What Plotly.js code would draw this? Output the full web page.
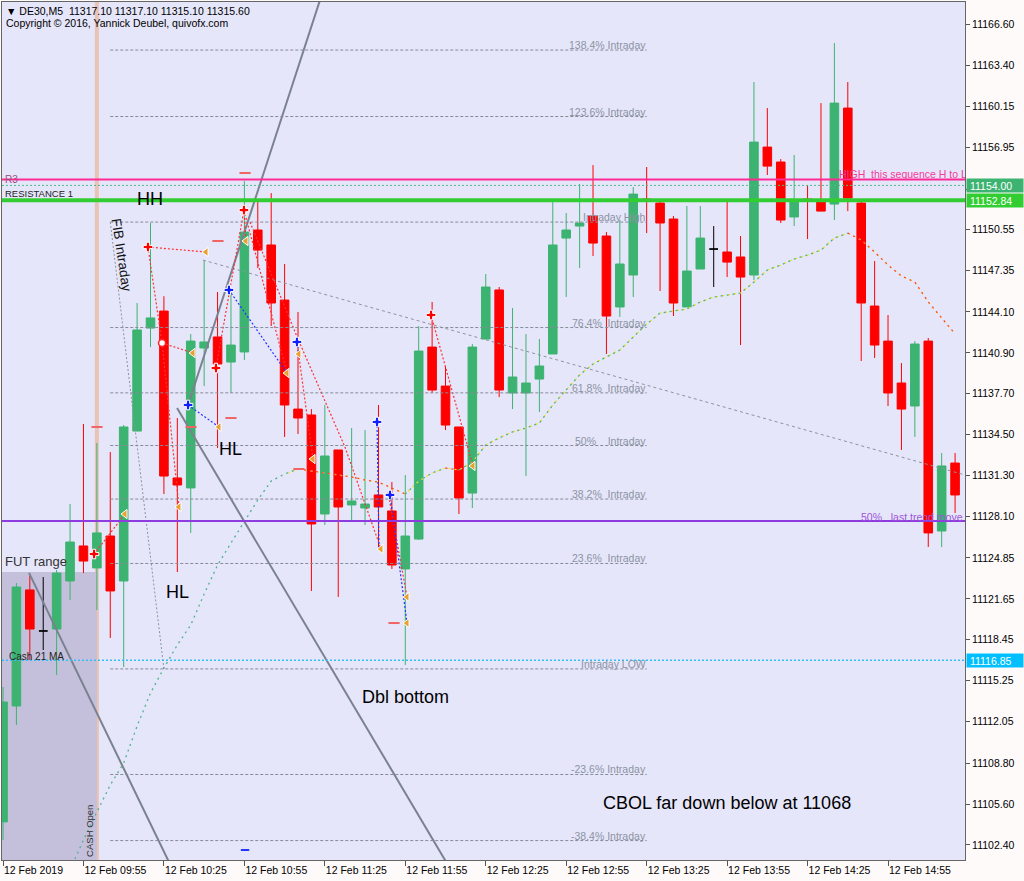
<!DOCTYPE html>
<html>
<head>
<meta charset="utf-8">
<script src="https://cdn.plot.ly/plotly-3.0.1.min.js"></script>
<style>
html,body{margin:0;padding:0;background:#FFFAFA;}
#chart{width:1024px;height:881px;}
</style>
</head>
<body>
<div id="chart"></div>
<script>
// DE30 M5 bars, 12 Feb 2019
const times = ['09:25','09:30','09:35','09:40','09:45','09:50','09:55','10:00','10:05','10:10',
  '10:15','10:20','10:25','10:30','10:35','10:40','10:45','10:50','10:55','11:00',
  '11:05','11:10','11:15','11:20','11:25','11:30','11:35','11:40','11:45','11:50',
  '11:55','12:00','12:05','12:10','12:15','12:20','12:25','12:30','12:35','12:40',
  '12:45','12:50','12:55','13:00','13:05','13:10','13:15','13:20','13:25','13:30',
  '13:35','13:40','13:45','13:50','13:55','14:00','14:05','14:10','14:15','14:20',
  '14:25','14:30','14:35','14:40','14:45','14:50','14:55','15:00','15:05','15:10',
  '15:15','15:20'];

const openP = [11104.20,11113.27,11122.35,11119.14,11119.29,11123.05,11125.79,11124.07,11126.57,11123.05,
  11134.78,11142.84,11144.17,11131.11,11130.33,11141.28,11142.14,11140.18,11140.97,11150.51,
  11149.34,11145.03,11136.50,11136.04,11128.29,11133.30,11129.00,11128.76,11129.78,11128.53,
  11123.99,11126.33,11141.35,11138.30,11135.10,11129.93,11141.98,11145.82,11137.76,11137.76,
  11138.85,11140.81,11149.88,11150.82,11151.60,11150.04,11144.49,11146.99,11152.93,11152.62,
  11151.37,11144.49,11147.46,11149.02,11148.79,11148.40,11146.99,11157.00,11155.83,11151.53,
  11152.93,11152.78,11152.54,11160.05,11152.62,11144.56,11141.82,11138.54,11136.74,11141.82,
  11126.96,11132.28];
const highP = [11114.76,11122.89,11123.44,11123.36,11123.91,11129.07,11135.33,11133.85,11133.14,11135.25,
  11144.80,11151.06,11145.33,11135.80,11142.37,11148.16,11145.66,11145.82,11154.34,11152.78,
  11153.40,11147.85,11144.09,11136.50,11136.82,11133.30,11135.02,11134.86,11136.82,11130.79,
  11131.34,11143.00,11144.88,11139.87,11135.10,11141.59,11147.07,11146.05,11144.41,11142.37,
  11141.98,11152.86,11151.84,11154.11,11155.59,11150.35,11151.29,11153.87,11155.44,11152.70,
  11151.60,11152.39,11152.39,11150.82,11152.78,11150.04,11162.09,11160.05,11156.06,11156.38,
  11154.03,11160.44,11165.14,11162.09,11152.78,11148.08,11143.86,11140.10,11141.82,11142.06,
  11133.06,11133.06];
const lowP = [11102.79,11111.79,11116.87,11117.65,11115.70,11121.56,11123.67,11120.78,11118.59,11116.32,
  11134.78,11141.35,11129.85,11123.75,11126.81,11138.30,11133.46,11137.76,11140.34,11147.54,
  11143.00,11134.32,11134.55,11122.27,11127.43,11121.80,11127.74,11127.43,11125.71,11123.99,
  11116.48,11126.26,11137.76,11134.86,11128.29,11128.76,11141.98,11137.44,11136.50,11131.26,
  11136.27,11140.81,11145.27,11147.54,11148.48,11140.81,11143.70,11145.27,11150.27,11145.74,
  11143.78,11144.49,11147.46,11146.05,11146.83,11141.51,11146.60,11154.81,11151.06,11150.82,
  11149.80,11151.99,11151.29,11151.99,11140.26,11140.50,11136.74,11133.30,11134.32,11125.71,
  11125.71,11128.37];
const closeP = [11113.58,11122.58,11119.29,11119.14,11123.67,11126.10,11124.61,11126.81,11122.27,11135.10,
  11142.69,11143.63,11131.26,11130.56,11141.82,11141.75,11140.03,11141.51,11150.35,11148.94,
  11144.80,11136.82,11135.80,11127.51,11132.83,11128.84,11129.31,11129.07,11128.84,11124.30,
  11126.57,11141.04,11137.99,11135.25,11129.54,11141.35,11146.05,11137.99,11139.01,11138.54,
  11139.87,11149.34,11150.51,11151.05,11149.49,11143.78,11147.85,11153.32,11152.78,11151.06,
  11144.80,11147.30,11149.88,11149.02,11148.00,11146.83,11157.39,11155.51,11151.29,11152.70,
  11152.78,11151.99,11160.44,11153.01,11144.80,11141.51,11137.76,11136.50,11141.59,11126.81,
  11132.05,11129.78];

// Cash session 21 MA
const maCash = [null,null,null,null,null,11100.44,11102.79,11104.98,11107.09,11108.81,
  11111.70,11114.29,11116.24,11118.04,11119.61,11122.03,11124.30,11126.02,11127.66,11129.39,
  11130.87,11131.42,11131.81,11131.65,11131.50,11131.34,11131.19,11130.95,11130.79,11130.32,
  11129.85,11130.87,11131.50,11131.89,11131.73,11132.36,11133.69,11134.24,11134.71,11135.02,
  11135.41,11136.82,11138.00,11139.17,11140.03,11140.58,11141.12,11142.14,11143.15,11144.01,
  11144.17,11144.33,11144.88,11145.27,11145.42,11145.58,11146.44,11147.38,11147.77,11148.24,
  11148.55,11148.94,11149.88,11150.27,11149.73,11148.79,11147.77,11146.91,11146.44,11144.88,
  11143.63,11142.38];
const maOverlayFrom = '11:10';

// axis ticks
const tickTimes = ['09:25','09:55','10:25','10:55','11:25','11:55','12:25','12:55','13:25','13:55','14:25','14:55'];
const tickLabels = ['12 Feb 2019','12 Feb 09:55','12 Feb 10:25','12 Feb 10:55','12 Feb 11:25','12 Feb 11:55',
  '12 Feb 12:25','12 Feb 12:55','12 Feb 13:25','12 Feb 13:55','12 Feb 14:25','12 Feb 14:55'];
const priceTicks = [11166.60,11163.40,11160.15,11156.95,11153.70,11150.55,11147.35,11144.10,11140.90,11137.70,
  11134.50,11131.30,11128.10,11124.85,11121.65,11118.45,11115.25,11112.05,11108.80,11105.60,11102.40];
// tick whose label sits under the price tags
const coveredTick = 11153.70;

// horizontal levels
const r3High = 11154.47;
const bidLevel = 11154.00;
const resistance1 = 11152.84;
const intradayLow = 11116.85;
const lastTrendHalf = 11127.74;

// futures range box and cash open
const futRangeTop = 11123.75;
const cashOpen = '10:00';

// Fibonacci intraday levels
const fibPrices = [11164.59,11159.39,11151.13,11142.88,11137.77,11133.65,11129.46,11124.42,11116.17,11107.91,11102.74];
const fibLabels = ['138.4% Intraday','123.6% Intraday','Intraday High','76.4%\u00a0\u00a0Intraday','61.8%\u00a0\u00a0Intraday',
  '50%\u00a0\u00a0\u00a0\u00a0Intraday','38.2%\u00a0\u00a0Intraday','23.6%\u00a0\u00a0Intraday','Intraday LOW','-23.6% Intraday','-38.4% Intraday'];
const fibFrom = '10:05', fibTo = '13:25';
const fibAnchorHigh = ['10:05', 11151.13];
const fibAnchorLow = ['10:25', 11116.17];

// drawn trend lines: [bar number, price]
const trendLines = [
  [[13.80, 11136.82], [25.00, 11172.88]],
  [[12.98, 11136.58], [34.00, 11099.38]],
  [[1.94, 11123.68], [13.00, 11099.71]]
];
const slopeLine = [[14.91, 11148.16], [72.50, 11131.12]];

// swing markers and links: [bar number, price]
const zigRedPaths = [
  [[10.81,11149.18],[15.14,11148.79]],
  [[10.81,11149.18],[11.86,11141.67],[13.12,11128.84]],
  [[11.86,11141.67],[14.17,11140.89]],
  [[15.88,11139.71],[17.97,11152.07]],
  [[17.97,11152.07],[18.12,11149.65]],
  [[17.97,11152.07],[21.18,11139.32]],
  [[18.42,11151.13],[22.00,11141.98],[25.50,11133.53],[28.19,11125.55]],
  [[21.92,11141.75],[23.12,11132.59]],
  [[28.71,11130.01],[30.13,11121.80]],
  [[31.92,11143.86],[35.05,11132.05]],
  [[6.79,11125.16],[9.10,11128.29]]
];
const zigBluePaths = [
  [[13.80,11136.82],[16.11,11135.10]],
  [[16.85,11145.82],[21.18,11139.32]],
  [[21.92,11141.75],[22.07,11140.81]],
  [[27.89,11135.49],[28.04,11125.55]],
  [[28.86,11129.78],[30.13,11119.76]]
];
const redCrosses = [[10.81,11149.18],[17.97,11152.07],[15.88,11139.71],[31.92,11143.86],[6.79,11125.16]];
const redRings = [[11.86,11141.67]];
const blueCrosses = [[13.80,11136.82],[16.85,11145.82],[21.92,11141.75],[27.89,11135.49],[28.86,11129.78]];
const orangeArrows = [[15.14,11148.79],[14.17,11140.89],[13.12,11128.84],[16.11,11135.10],[18.12,11149.65],
  [21.18,11139.32],[22.07,11140.81],[23.12,11132.59],[28.19,11125.55],[30.13,11121.80],[30.13,11119.76],
  [35.05,11132.05],[9.10,11128.29]];
const redTicks = [[18.05,11154.97],[16.03,11149.65],[17.00,11135.80],[22.07,11131.81],[29.16,11119.76],[7.01,11135.10],[14.02,11135.10]];
const blueTicks = [[18.05,11102.00]];

// chart notes
const noteTexts = ['HH','HL','HL','Dbl bottom','CBOL far down below at 11068'];
const noteBars = [10.96, 17.0, 12.98, 29.98, 54.0];
const notePrices = [11152.93, 11133.38, 11122.19, 11113.97, 11105.68];

const FONT = '"Liberation Sans", Arial, sans-serif';
const bar = t => times.indexOf(t);
const idx = times.map((_, i) => i);

const traces = [];

// candles
function candles(ids, up, down) {
  return {
    type: 'candlestick', x: ids,
    open: ids.map(i => openP[i]), high: ids.map(i => highP[i]),
    low: ids.map(i => lowP[i]), close: ids.map(i => closeP[i]),
    increasing: {line: {color: up, width: 1}, fillcolor: up},
    decreasing: {line: {color: down, width: 1}, fillcolor: down},
    whiskerwidth: 0, hoverinfo: 'skip', showlegend: false
  };
}
traces.push(candles(idx.filter(i => openP[i] !== closeP[i]), '#3CB371', '#FF0000'));
traces.push(candles(idx.filter(i => openP[i] === closeP[i]), '#000000', '#000000'));

// MA: yellow base after overlay start, coloured by direction
const ovStart = bar(maOverlayFrom);
traces.push({
  type: 'scatter', mode: 'lines',
  x: idx.slice(ovStart), y: maCash.slice(ovStart),
  line: {color: '#F2E21C', width: 1.3, dash: '0px,3px,2px,1px'},
  hoverinfo: 'skip', showlegend: false
});
let runStart = null, runUp = null;
const firstMa = maCash.findIndex(v => v !== null);
function pushRun(a, b, up) {
  traces.push({
    type: 'scatter', mode: 'lines',
    x: idx.slice(a, b + 1), y: maCash.slice(a, b + 1),
    line: {color: up ? '#4DB38A' : '#FF4545', width: 1.3, dash: '2px,4px'},
    hoverinfo: 'skip', showlegend: false
  });
}
for (let i = firstMa; i < maCash.length - 1; i++) {
  const up = maCash[i + 1] >= maCash[i];
  if (runStart === null) { runStart = i; runUp = up; }
  else if (up !== runUp) { pushRun(runStart, i, runUp); runStart = i; runUp = up; }
}
pushRun(runStart, maCash.length - 1, runUp);

// trend lines
trendLines.forEach(seg => traces.push({
  type: 'scatter', mode: 'lines', x: seg.map(p => p[0]), y: seg.map(p => p[1]),
  line: {color: '#7A818F', width: 2}, hoverinfo: 'skip', showlegend: false
}));
traces.push({
  type: 'scatter', mode: 'lines', x: slopeLine.map(p => p[0]), y: slopeLine.map(p => p[1]),
  line: {color: '#8D929E', width: 1, dash: '3px,3px'}, hoverinfo: 'skip', showlegend: false
});
// fib anchor diagonal
traces.push({
  type: 'scatter', mode: 'lines',
  x: [bar(fibAnchorHigh[0]), bar(fibAnchorLow[0])], y: [fibAnchorHigh[1], fibAnchorLow[1]],
  line: {color: '#8D929E', width: 1, dash: '2px,2px'}, hoverinfo: 'skip', showlegend: false
});

// swing links
function paths(list, color) {
  const x = [], y = [];
  list.forEach(p => { p.forEach(q => { x.push(q[0]); y.push(q[1]); }); x.push(null); y.push(null); });
  traces.push({type: 'scatter', mode: 'lines', x, y, connectgaps: false,
    line: {color, width: 1.2, dash: '2px,2px'}, hoverinfo: 'skip', showlegend: false});
}
paths(zigRedPaths, '#FF3030');
paths(zigBluePaths, '#2233FF');

function marks(list, symbol, color, size, lineColor, lineWidth) {
  traces.push({type: 'scatter', mode: 'markers', x: list.map(p => p[0]), y: list.map(p => p[1]),
    marker: {symbol, color, size, line: {color: lineColor, width: lineWidth}},
    hoverinfo: 'skip', showlegend: false, cliponaxis: true});
}
marks(redTicks, 'line-ew', '#F06464', 8, '#F06464', 2);
marks(blueTicks, 'line-ew', '#2233FF', 6, '#2233FF', 2);
marks(orangeArrows, 'triangle-left', '#E8A030', 8, '#FFFFFF', 1);
marks(redCrosses, 'cross', '#FF0000', 8, '#FFFFFF', 1);
marks(redRings, 'circle', '#FFFFFF', 7, '#FF2020', 1.5);
marks(blueCrosses, 'cross', '#1020FF', 8, '#FFFFFF', 1);

// shapes
const shapes = [];
shapes.push({type: 'rect', xref: 'x', yref: 'y', x0: -2, x1: bar(cashOpen), y0: 11090, y1: futRangeTop,
  fillcolor: '#C4C0DC', line: {width: 0}, layer: 'below'});
shapes.push({type: 'line', xref: 'x', yref: 'paper', x0: bar(cashOpen), x1: bar(cashOpen), y0: 0, y1: 1,
  line: {color: 'rgba(236,180,150,0.7)', width: 4}, layer: 'below'});
fibPrices.forEach(p => shapes.push({type: 'line', xref: 'x', yref: 'y', x0: bar(fibFrom), x1: bar(fibTo), y0: p, y1: p,
  line: {color: '#858B98', width: 1, dash: '3px,2px'}, layer: 'above'}));
function hline(p, color, width, dash) {
  shapes.push({type: 'line', xref: 'paper', yref: 'y', x0: 0, x1: 1, y0: p, y1: p,
    line: {color, width, dash: dash || 'solid'}, layer: 'above'});
}
hline(intradayLow, '#33BFF5', 1.5, '2px,2px');
hline(lastTrendHalf, '#8E3CE0', 2);
hline(r3High, '#FF2A96', 2);
hline(bidLevel, '#52B88A', 1, '2px,2px');
hline(resistance1, '#32CD32', 4);

// annotations
const ann = [];
ann.push({xref: 'paper', yref: 'paper', x: 0, y: 1, xanchor: 'left', yanchor: 'top', xshift: 2, yshift: -1,
  text: '\u25BC DE30,M5\u00a0\u00a011317.10 11317.10 11315.10 11315.60', showarrow: false,
  font: {family: FONT, size: 10.5, color: '#000'}});
ann.push({xref: 'paper', yref: 'paper', x: 0, y: 1, xanchor: 'left', yanchor: 'top', xshift: 2, yshift: -13,
  text: 'Copyright \u00A9 2016, Yannick Deubel, quivofx.com', showarrow: false,
  font: {family: FONT, size: 10.5, color: '#000'}});

fibLabels.forEach((t, i) => ann.push({xref: 'x', yref: 'y', x: bar(fibTo), y: fibPrices[i], xanchor: 'right',
  yanchor: 'middle', yshift: 5, text: t, showarrow: false, borderpad: 0,
  font: {family: FONT, size: 10.5, color: '#8B93A3'}}));

noteTexts.forEach((t, i) => ann.push({xref: 'x', yref: 'y', x: noteBars[i], y: notePrices[i],
  xanchor: 'center', yanchor: 'middle', text: t, showarrow: false,
  font: {family: FONT, size: 18, color: '#000'}}));

ann.push({xref: 'x', yref: 'y', x: 8.87, y: 11148.55, text: 'FIB Intraday', textangle: 81.5, showarrow: false,
  font: {family: FONT, size: 13.5, color: '#111'}});
ann.push({xref: 'x', yref: 'y', x: 0, y: futRangeTop, xanchor: 'left', yanchor: 'bottom', yshift: 1,
  text: 'FUT range', showarrow: false, font: {family: FONT, size: 13, color: '#333'}});
ann.push({xref: 'x', yref: 'y', x: 0.3, y: 11117.18, xanchor: 'left', yanchor: 'middle',
  text: 'Cash 21 MA', showarrow: false, font: {family: FONT, size: 10, color: '#222'}});
ann.push({xref: 'x', yref: 'y', x: bar(cashOpen) - 0.52, y: 11103.49, textangle: -90,
  text: 'CASH Open', showarrow: false, font: {family: FONT, size: 9.5, color: '#333'}});
ann.push({xref: 'paper', yref: 'y', x: 0, y: r3High, xanchor: 'left', yanchor: 'middle', xshift: 1,
  text: 'R3', showarrow: false, font: {family: FONT, size: 10, color: '#9A4E78'}});
ann.push({xref: 'paper', yref: 'y', x: 0, y: 11153.40, xanchor: 'left', yanchor: 'middle', xshift: 1,
  text: 'RESISTANCE 1', showarrow: false, font: {family: FONT, size: 9.5, color: '#222'}});
ann.push({xref: 'x', yref: 'y', x: 62.27, y: 11154.89, xanchor: 'left', yanchor: 'middle', width: 126, align: 'left',
  text: 'HIGH\u00a0\u00a0this sequence H to L', showarrow: false, borderpad: 0,
  font: {family: FONT, size: 10.5, color: '#F03C9C'}});
ann.push({xref: 'x', yref: 'y', x: 63.9, y: 11128.06, xanchor: 'left', yanchor: 'middle', width: 104, align: 'left',
  text: '50%\u00a0\u00a0\u00a0last trend move', showarrow: false, borderpad: 0,
  font: {family: FONT, size: 10.5, color: '#9D55D6'}});

// price tags on the right axis
function tag(p, bg) {
  ann.push({xref: 'paper', yref: 'y', x: 1, y: p, xanchor: 'left', yanchor: 'middle', xshift: 1,
    width: 56, height: 13, align: 'left', bgcolor: bg, borderpad: 0,
    text: '\u00a0' + p.toFixed(2), showarrow: false, font: {family: FONT, size: 10.5, color: '#FFFFFF'}});
}
tag(bidLevel, '#3CB371');
tag(resistance1, '#32CD32');
tag(intradayLow, '#00BFFF');

const layout = {
  width: 1024, height: 881,
  margin: {l: 2, r: 59, t: 2, b: 21, pad: 0},
  paper_bgcolor: '#FFFAFA', plot_bgcolor: '#E6E6FA',
  showlegend: false, boxgap: 0.36, boxgroupgap: 0,
  font: {family: FONT, size: 10.5, color: '#000'},
  xaxis: {
    type: 'linear', range: [-0.075, 71.74], rangeslider: {visible: false},
    tickvals: tickTimes.map(bar), ticktext: tickLabels, ticklabelposition: 'outside right',
    ticks: 'outside', ticklen: 5, tickcolor: '#555', showgrid: false, zeroline: false,
    showline: true, mirror: true, linecolor: '#666', linewidth: 1,
    tickfont: {family: FONT, size: 10.5, color: '#000'}, fixedrange: true
  },
  yaxis: {
    side: 'right', range: [11101.22, 11168.35],
    tickvals: priceTicks, ticktext: priceTicks.map(v => v === coveredTick ? '' : v.toFixed(2)),
    ticks: 'outside', ticklen: 4, tickcolor: '#555', showgrid: false, zeroline: false,
    showline: true, mirror: true, linecolor: '#666', linewidth: 1,
    tickfont: {family: FONT, size: 10.5, color: '#000'}, fixedrange: true
  },
  shapes, annotations: ann
};

Plotly.newPlot('chart', traces, layout, {displayModeBar: false, staticPlot: true});
</script>
</body>
</html>
